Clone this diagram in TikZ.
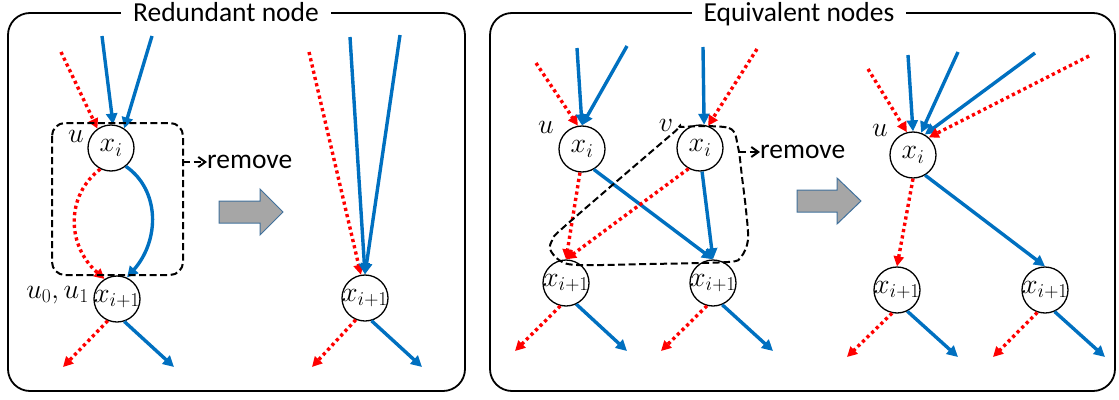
\RequirePackage{fix-cm}
\documentclass[tikz,border=0pt]{standalone}
\usepackage[no-math]{fontspec}
\setmainfont{Carlito}
\usetikzlibrary{arrows.meta}
\definecolor{arrblue}{HTML}{0070C0}
\definecolor{arrgray}{HTML}{A6A6A6}
\definecolor{arredge}{HTML}{41719C}
\tikzset{
  vtx/.style={circle, draw, line width=1.3pt, minimum size=46pt, inner sep=0pt, font=\fontsize{28}{30}\selectfont},
  lbl/.style={inner sep=0pt, font=\fontsize{28}{30}\selectfont},
  blu/.style={draw=arrblue, line width=3.4pt, -{Triangle[length=11pt,width=11pt]}},
  rd/.style={draw=red, line width=3.4pt, dash pattern=on 3.2pt off 3.2pt, -{Triangle[length=10pt,width=10pt]}},
  grp/.style={draw, line width=2pt, dash pattern=on 7pt off 3.5pt},
  panel/.style={draw, line width=1.8pt, rounded corners=22pt},
  ttl/.style={fill=white, inner xsep=12pt, inner ysep=0pt, anchor=base, font=\fontsize{27.5}{30}\selectfont},
  rmv/.style={inner sep=0pt, anchor=west, font=\fontsize{27.5}{30}\selectfont},
  blk/.style={fill=arrgray, draw=arredge, line width=1pt},
}
\newcommand{\nm}[1]{\makebox[0pt]{$#1$}}
\begin{document}
\begin{tikzpicture}[x=1pt, y=-1pt]
\useasboundingbox (0,0) rectangle (1119,399);

\draw[panel] (8,13) rectangle (465,391);
\node[ttl] (t1) at (226,21) {Redundant node};
\draw[panel] (490,13) rectangle (1115,391);
\node[ttl] (t2) at (799,21) {Equivalent nodes};

% redundant node, before
\node[vtx] (ui) at (111,148) {\nm{x_i}};
\node[vtx] (un) at (117,299) {\nm{x_{i+1}}};
\node[lbl] (lu) at (76,136) {$u$};
\node[lbl, anchor=east] (lu01) at (89,295) {$u_0,u_1$};

\coordinate (a1) at (61,52);
\coordinate (a2) at (102,36);
\coordinate (a3) at (152,36);
\draw[rd] (a1) -- (ui.125);
\draw[blu] (a2) -- (ui.85);
\draw[blu] (a3) -- (ui.56);
\draw[rd] (ui.243) .. controls (66,195) and (66,245) .. (un.122);
\draw[blu] (ui.309) .. controls (160,190) and (160,240) .. (un.65);
\draw[grp, rounded corners=13pt] (52,123) rectangle (183,275);

\coordinate (g1) at (183,162);
\node[rmv] (rm1) at (207,162) {remove};
\draw[grp, -{Straight Barb[length=7pt,width=10pt]}] (g1) -- (rm1.west);

\coordinate (l1) at (63,367);
\coordinate (l2) at (174,367);
\draw[rd] (un.247) -- (l1);
\draw[blu] (un.288) -- (l2);

\draw[blk] (219,201) -- (260,201) -- (260,189) -- (283,212) -- (260,235) -- (260,223) -- (219,223) -- cycle;

% redundant node, after
\node[vtx] (vn) at (365,298) {\nm{x_{i+1}}};
\coordinate (b1) at (309,52);
\coordinate (b2) at (350,37);
\coordinate (b3) at (400,35);
\draw[rd] (b1) -- (vn.100);
\draw[blu] (b2) -- (vn.north);
\draw[blu] (b3) -- (vn.north);
\coordinate (b4) at (312,367);
\coordinate (b5) at (422,367);
\draw[rd] (vn.247) -- (b4);
\draw[blu] (vn.286) -- (b5);

% equivalent nodes, before
\node[vtx] (ai) at (582,149) {\nm{x_i}};
\node[vtx] (bi) at (700,148) {\nm{x_i}};
\node[vtx] (an) at (566,283) {\nm{x_{i+1}}};
\node[vtx] (bn) at (713,283) {\nm{x_{i+1}}};
\node[lbl] (ru) at (546,127) {$u$};
\node[lbl] (rv) at (666,125) {$v$};

\coordinate (c1) at (536,63);
\coordinate (c2) at (577,48);
\coordinate (c3) at (627,46);
\coordinate (c4) at (703,47);
\coordinate (c5) at (757,49);
\draw[rd] (c1) -- (ai.100);
\draw[blu] (c2) -- (ai.north);
\draw[blu] (c3) -- (ai.north);
\draw[blu] (c4) -- (bi.80);
\draw[rd] (c5) -- (bi.70);

\draw[rd] (ai.265) -- (an.north);
\draw[blu] (ai.300) -- (bn.north);
\draw[rd] (bi.241) -- (an.north);
\draw[blu] (bi.275) -- (bn.north);

\coordinate (c6) at (515,351);
\coordinate (c7) at (627,351);
\coordinate (c8) at (661,351);
\coordinate (c9) at (773,351);
\draw[rd] (an.256) -- (c6);
\draw[blu] (an.296) -- (c7);
\draw[rd] (bn.255) -- (c8);
\draw[blu] (bn.293) -- (c9);

\draw[grp] plot[smooth cycle] coordinates {(682,127) (729,128) (738,147) (742,177) (746,210) (748,240) (741,257) (728,262) (650,264) (577,265) (559,260) (550,249) (553,239) (565,226) (672,134)};

\coordinate (g2) at (739,152);
\node[rmv] (rm2) at (760,152) {remove};
\draw[grp, -{Straight Barb[length=7pt,width=10pt]}] (g2) -- (rm2.west);

\draw[blk] (797,190) -- (837,190) -- (837,178) -- (861,201) -- (837,224) -- (837,212) -- (797,212) -- cycle;

% equivalent nodes, after
\node[vtx] (ei) at (913,155) {\nm{x_i}};
\node[vtx] (fn) at (897,290) {\nm{x_{i+1}}};
\node[vtx] (gn) at (1045,290) {\nm{x_{i+1}}};
\node[lbl] (eu) at (880,130) {$u$};

\coordinate (d1) at (868,69);
\coordinate (d2) at (908,55);
\coordinate (d3) at (958,52);
\coordinate (d4) at (1035,53);
\coordinate (d5) at (1089,56);
\draw[rd] (d1) -- (ei.105);
\draw[blu] (d2) -- (ei.north);
\draw[blu] (d3) -- (ei.70);
\draw[blu] (d4) -- (ei.60);
\draw[rd] (d5) -- (ei.48);

\draw[rd] (ei.south) -- (fn.north);
\draw[blu] (ei.301) -- (gn.north);

\coordinate (d6) at (847,357);
\coordinate (d7) at (958,357);
\coordinate (d8) at (993,357);
\coordinate (d9) at (1105,357);
\draw[rd] (fn.258) -- (d6);
\draw[blu] (fn.296) -- (d7);
\draw[rd] (gn.251) -- (d8);
\draw[blu] (gn.294) -- (d9);

\end{tikzpicture}
\end{document}
